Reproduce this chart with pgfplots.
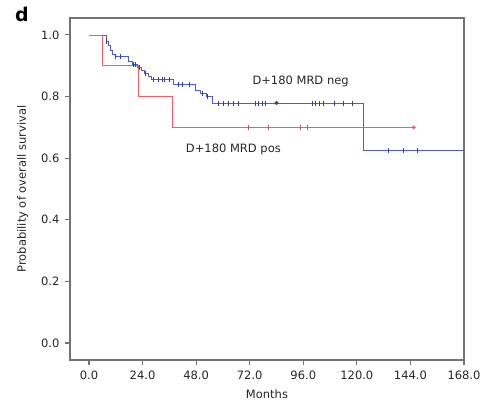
\documentclass[border=0pt]{standalone}
\usepackage{fontspec}
\setmainfont{DejaVu Sans}
\usepackage{pgfplots}
\pgfplotsset{compat=1.18}
\definecolor{kmblue}{RGB}{80,92,200}
\definecolor{kmbluedark}{RGB}{50,65,150}
\definecolor{kmred}{RGB}{232,95,105}
\definecolor{axgray}{RGB}{115,115,115}
\begin{document}
\begin{tikzpicture}[x=1pt,y=1pt]
\path (0,0) rectangle (488,403);
\begin{axis}[
  at={(70pt,43pt)}, anchor=south west,
  scale only axis, width=394pt, height=342pt,
  xmin=-8.5, xmax=168, ymin=-0.055, ymax=1.055,
  xtick={0,24,48,72,96,120,144,168},
  ytick={0,0.2,0.4,0.6,0.8,1.0},
  xtick pos=left, ytick pos=left,
  tick align=outside,
  major tick length=5pt,
  axis line style={axgray, line width=1.1pt},
  every tick/.style={axgray, line width=1.1pt},
  /pgf/number format/.cd, fixed, fixed zerofill, precision=1, assume math mode=true,
  /pgfplots/.cd,
  tick label style={font=\fontsize{11.5}{13}\selectfont, text=black!85},
  xticklabel style={yshift=-2pt},
  yticklabel style={xshift=-2pt},
  xlabel={Months},
  ylabel={Probability of overall survival},
  label style={font=\fontsize{11.5}{13}\selectfont, text=black!85},
  xlabel style={yshift=-4pt},
  ylabel style={yshift=6pt},
  clip=false,
]
% D+180 MRD neg
\addplot[const plot, kmblue, line width=0.8pt] coordinates {
  (0,1.0) (7.6,0.98) (8.5,0.965) (9.5,0.95) (10.5,0.937) (12,0.929)
  (17.5,0.915) (19.5,0.905) (21.5,0.895) (23.5,0.885) (25,0.875)
  (26.5,0.865) (28,0.855) (37.7,0.838) (47.6,0.82) (50,0.81)
  (52.5,0.80) (55.5,0.779) (122.8,0.625) (168,0.625)
};
\addplot[only marks, mark=|, mark size=2.5pt, kmbluedark, mark options={line width=0.8pt}] coordinates {
  (8,0.98) (11.7,0.929) (14,0.929) (20,0.905) (21,0.905) (22.5,0.895)
  (25.5,0.875) (29,0.855) (31,0.855) (33,0.855) (34,0.855) (36,0.855)
  (40,0.838) (42,0.838) (45,0.838) (51,0.81) (53,0.80)
  (58,0.779) (60,0.779) (62.5,0.779) (64.7,0.779) (67,0.779)
  (74.6,0.779) (76,0.779) (77.5,0.779) (79,0.779)
  (100,0.779) (101.5,0.779) (103,0.779) (105,0.779) (110,0.779) (114,0.779) (118,0.779)
  (134,0.625) (141,0.625) (147,0.625)
};
\addplot[only marks, mark=*, mark size=1.8pt, kmbluedark] coordinates {(84,0.779)};
% D+180 MRD pos
\addplot[const plot, kmred, line width=0.8pt] coordinates {
  (0,1.0) (5.8,0.9) (22,0.8) (37.2,0.7) (145.5,0.7)
};
\addplot[only marks, mark=|, mark size=2.5pt, kmred!85!black, mark options={line width=0.8pt}] coordinates {
  (71.5,0.7) (80.4,0.7) (94.8,0.7) (98,0.7)
};
\addplot[only marks, mark=*, mark size=1.8pt, kmred] coordinates {(145.5,0.7)};
\node[font=\fontsize{11.5}{13}\selectfont, text=black!85] at (axis cs:94.8,0.849) {D+180 MRD neg};
\node[font=\fontsize{11.5}{13}\selectfont, text=black!85] at (axis cs:64.7,0.627) {D+180 MRD pos};
\end{axis}
\node[font=\fontsize{19}{22}\selectfont\bfseries] at (22,389) {d};
\end{tikzpicture}
\end{document}
